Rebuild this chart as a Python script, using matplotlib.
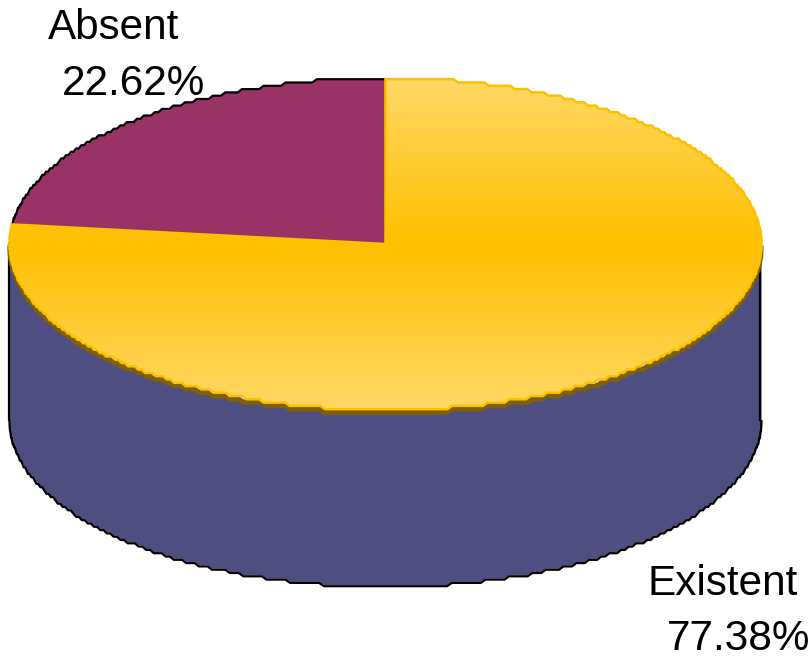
import numpy as np
import matplotlib
matplotlib.use('Agg')
import matplotlib.pyplot as plt
from matplotlib.colors import LinearSegmentedColormap
from matplotlib.patches import Polygon

categories = ["Absent", "Existent"]
shares = [22.62, 77.38]

plt.rcParams['font.family'] = ['Liberation Sans', 'DejaVu Sans']

cx, cy = 385.5, 244
rx, ry = 376, 166
depth = 176


def rough(x, y):
    # the original edge is slightly stepped, so snap y to a small grid
    return x, np.round(y / 3.3) * 3.3


def edge(a0, a1, n):
    # angles are clockwise from 12 o'clock, in degrees
    a = np.radians(np.linspace(a0, a1, n))
    return rough(cx + rx * np.sin(a), cy - ry * np.cos(a))


fig = plt.figure(figsize=(8.12, 6.59), dpi=100)
ax = fig.add_axes([0, 0, 1, 1])
ax.set_xlim(0, 812)
ax.set_ylim(659, 0)
ax.axis('off')

# the 3d tilt in the original pushes the slice end a little lower
absent_deg = shares[0] / sum(shares) * 360 + 2

# side wall
xs, ys = edge(90, 270, 240)
wall = np.vstack([np.column_stack([xs, ys]), np.column_stack([xs[::-1], ys[::-1] + depth])])
ax.add_patch(Polygon(wall, closed=True, fc='#4E4E80', ec='none', zorder=1))
ax.plot(xs, ys + depth + 1, color='black', lw=1.6, zorder=2)
ax.plot([cx - rx, cx - rx], [cy, cy + depth], color='black', lw=1.6, zorder=2)
ax.plot([cx + rx - 1, cx + rx - 1], [cy, cy + depth], color='black', lw=1.6, zorder=2)

# dark rim under the top face
ax.plot(xs, ys + 3.5, color='#806000', lw=3, zorder=3)

# absent slice
xa, ya = edge(360 - absent_deg, 360, 120)
slice_pts = np.vstack([[cx, cy], np.column_stack([xa, ya])])
ax.add_patch(Polygon(slice_pts, closed=True, fc='#993366', ec='none', zorder=4))
ax.plot(xa, ya, color='black', lw=1.6, zorder=4)

# existent slice with vertical gradient
xe, ye = edge(0, 360 - absent_deg, 400)
exist_pts = np.vstack([[cx, cy], np.column_stack([xe, ye])])
exist = Polygon(exist_pts, closed=True, fc='none', ec='#FFC000', lw=1.8, zorder=6)
ax.add_patch(exist)
cmap = LinearSegmentedColormap.from_list('gold', ['#FFD966', '#FFC000', '#FFD966'])
grad = np.linspace(0, 1, 256).reshape(-1, 1)
im = ax.imshow(grad, cmap=cmap, extent=(cx - rx, cx + rx, cy + ry, cy - ry),
               aspect='auto', zorder=5)
im.set_clip_path(exist)
ax.set_xlim(0, 812)
ax.set_ylim(659, 0)

# labels
ax.text(48, 39, categories[0], fontsize=30.4, color='black', zorder=7)
ax.text(62, 95, f"{shares[0]:.2f}%", fontsize=30.4, color='black', zorder=7)
ax.text(648, 595, categories[1], fontsize=30.4, color='black', zorder=7)
ax.text(667, 650, f"{shares[1]:.2f}%", fontsize=30.4, color='black', zorder=7)

plt.savefig('out.png', dpi=100)
